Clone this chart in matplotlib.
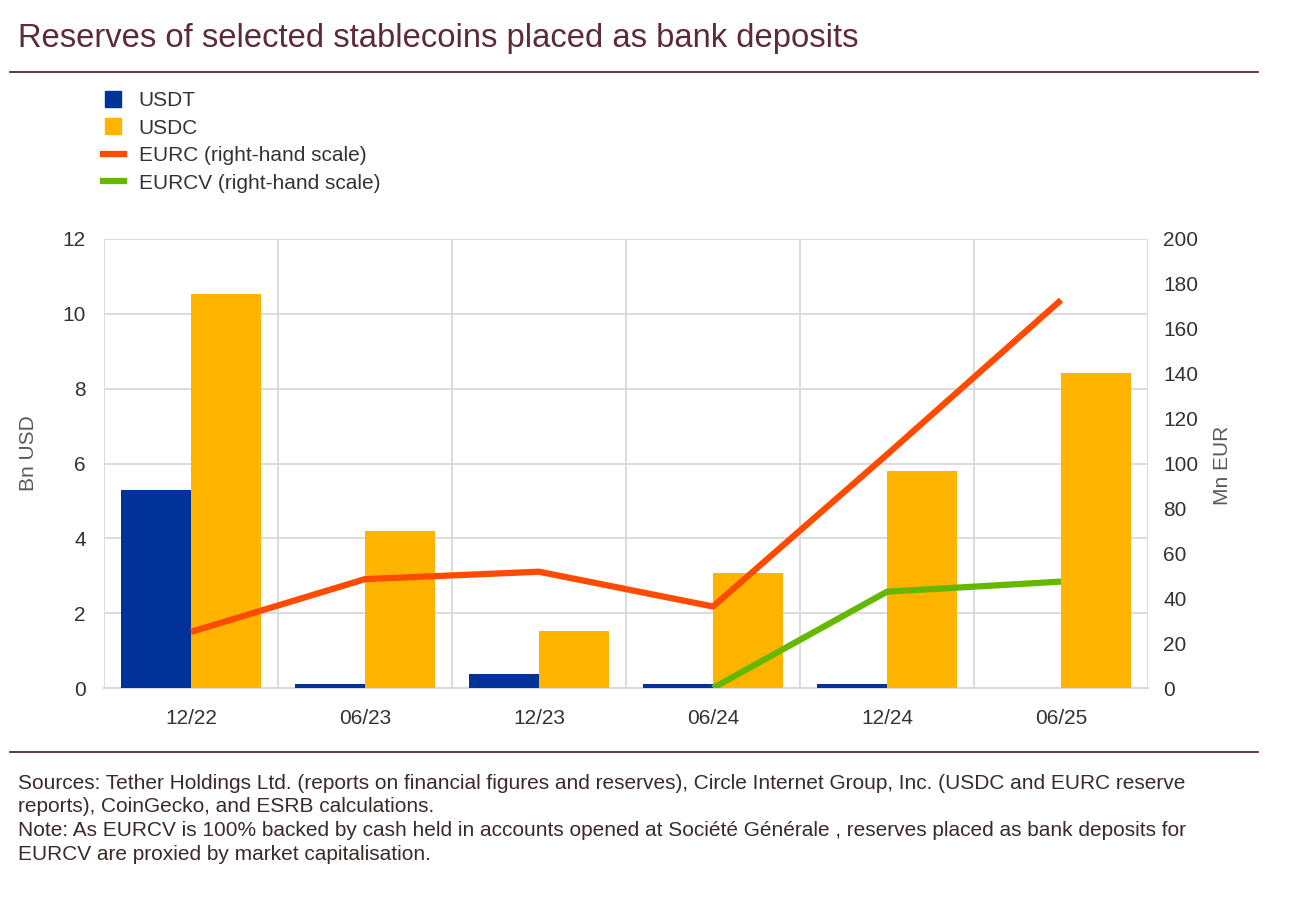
import matplotlib
matplotlib.use("Agg")
import matplotlib.pyplot as plt
import numpy as np
from matplotlib.lines import Line2D

plt.rcParams['font.family'] = ['Liberation Sans', 'DejaVu Sans']

categories = ["12/22", "06/23", "12/23", "06/24", "12/24", "06/25"]
usdt = [5.3, 0.1, 0.38, 0.1, 0.1, 0.0]
usdc = [10.53, 4.2, 1.52, 3.08, 5.8, 8.42]
eurc = [25.0, 48.5, 51.8, 36.3, 104.0, 172.8]
eurcv = [np.nan, np.nan, np.nan, 0.0, 42.9, 47.4]

C_USDT = "#003299"
C_USDC = "#FFB400"
C_EURC = "#FF4B00"
C_EURCV = "#65B800"
MAROON = "#5C2B35"
GRID = "#D9D9D9"
TXT = "#333333"
FS = 15

fig = plt.figure(figsize=(13.16, 9.06), dpi=100)
W, H = 1316, 906

ax_left, ax_right, ax_top, ax_bottom = 104, 1148, 239, 688
ax = fig.add_axes([ax_left / W, 1 - ax_bottom / H, (ax_right - ax_left) / W, (ax_bottom - ax_top) / H])
ax2 = ax.twinx()

x = np.arange(len(categories))
bw = 0.4
ax.bar(x - bw / 2, usdt, bw, color=C_USDT, zorder=3)
ax.bar(x + bw / 2, usdc, bw, color=C_USDC, zorder=3)

ax2.plot(x, eurc, color=C_EURC, lw=4.5, solid_capstyle='butt', zorder=4)
ax2.plot(x, eurcv, color=C_EURCV, lw=4.5, solid_capstyle='butt', zorder=4)

ax.set_xlim(-0.5, len(categories) - 0.5)
ax.set_ylim(0, 12)
ax2.set_ylim(0, 200)
ax.set_yticks(np.arange(0, 13, 2))
ax2.set_yticks(np.arange(0, 201, 20))
ax.set_xticks(x)
ax.set_xticklabels(categories)

# grid
for v in np.arange(2, 13, 2):
    ax.axhline(v, color=GRID, lw=1.3, zorder=1)
for b in np.arange(-0.5, len(categories), 1.0):
    ax.axvline(b, color=GRID, lw=1.3, zorder=1)

for a in (ax, ax2):
    for s in a.spines.values():
        s.set_visible(False)
ax.spines['bottom'].set_visible(True)
ax.spines['bottom'].set_color(GRID)
ax.spines['bottom'].set_linewidth(1.5)
ax.spines['bottom'].set_zorder(2)

ax.tick_params(axis='both', length=0, labelsize=FS, colors=TXT)
ax.tick_params(axis='y', pad=13)
ax.tick_params(axis='x', pad=15)
ax2.tick_params(axis='y', length=0, labelsize=FS, colors=TXT, pad=11)

fig.text(28 / W, 1 - 453 / H, "Bn USD", fontsize=FS, color="#595959", rotation=90,
         ha='center', va='center')
fig.text(1222 / W, 1 - 465 / H, "Mn EUR", fontsize=FS, color="#595959", rotation=90,
         ha='center', va='center')

ax.set_zorder(ax2.get_zorder() - 1)
ax.patch.set_visible(True)
ax2.patch.set_visible(False)

# title and rules
fig.text(18 / W, 1 - 38 / H, "Reserves of selected stablecoins placed as bank deposits",
         fontsize=23.6, color=MAROON, va='center', ha='left')
fig.add_artist(Line2D([10 / W, 1258 / W], [1 - 72 / H, 1 - 72 / H], color=MAROON, lw=1.3))
fig.add_artist(Line2D([10 / W, 1258 / W], [1 - 752 / H, 1 - 752 / H], color=MAROON, lw=1.3))

# legend
handles = [Line2D([], [], ls='none', marker='s', markersize=11.5, color=C_USDT),
           Line2D([], [], ls='none', marker='s', markersize=11.5, color=C_USDC),
           Line2D([], [], color=C_EURC, lw=4.5),
           Line2D([], [], color=C_EURCV, lw=4.5)]
labels = ["USDT", "USDC", "EURC (right-hand scale)", "EURCV (right-hand scale)"]
fig.legend(handles, labels, loc='upper left', bbox_to_anchor=(103 / W, 1 - 91 / H),
           frameon=False, fontsize=FS, handlelength=1.0,
           handletextpad=0.72, labelspacing=0.41, labelcolor=TXT, borderaxespad=0,
           borderpad=0)

footer = ("Sources: Tether Holdings Ltd. (reports on financial figures and reserves), Circle Internet Group, Inc. (USDC and EURC reserve\n"
          "reports), CoinGecko, and ESRB calculations.\n"
          "Note: As EURCV is 100% backed by cash held in accounts opened at Société Générale , reserves placed as bank deposits for\n"
          "EURCV are proxied by market capitalisation.")
fig.text(18 / W, 1 - 774 / H, footer, fontsize=FS, color="#3A2A2A", va='top', ha='left', linespacing=1.3)

fig.savefig("out.png", dpi=100)
